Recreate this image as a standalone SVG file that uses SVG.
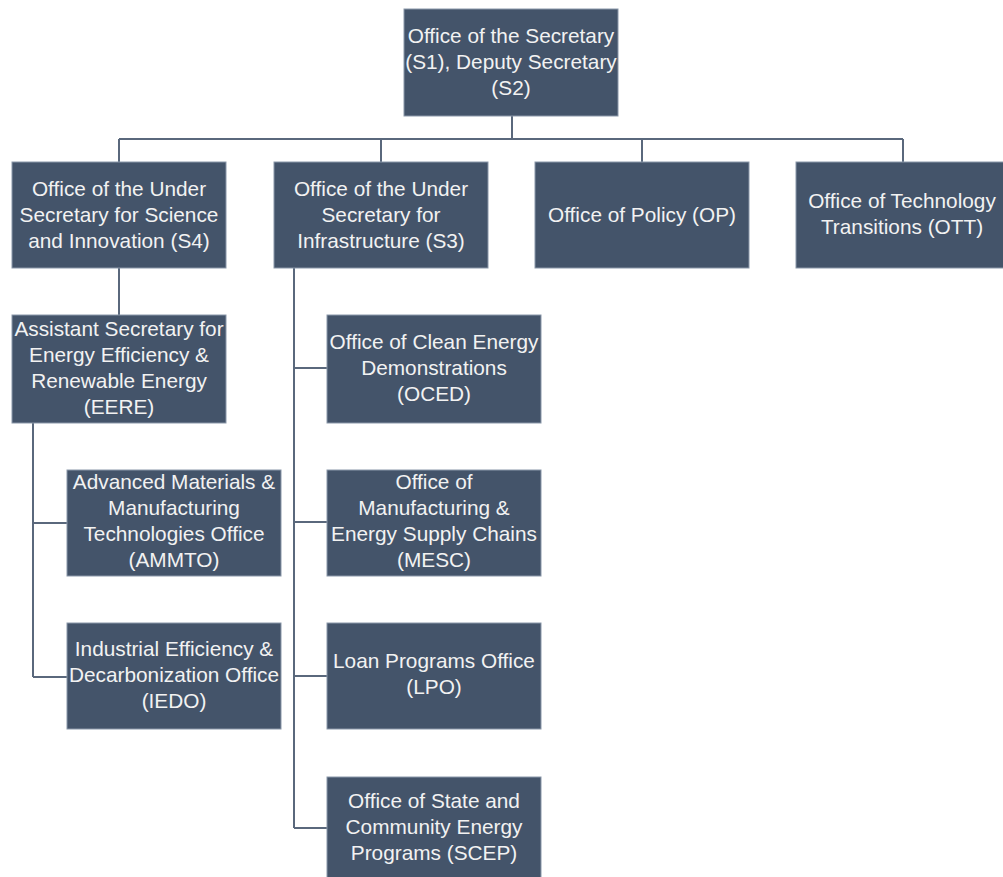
<svg xmlns="http://www.w3.org/2000/svg" width="1003" height="877" viewBox="0 0 1003 877">
<style>
.box{fill:#44546a;stroke:#8a97a9;stroke-width:1}
.lbl{font-family:"Liberation Sans",Arial,sans-serif;font-size:20.8px;fill:#f2f2f2;text-anchor:middle}
.con{fill:none;stroke:#5a687c;stroke-width:2}
</style>
<rect width="1003" height="877" fill="#ffffff"/>
<g id="connectors">
<path class="con" d="M512,116 V139 M119,139 H903 M119,139 V162 M381,139 V162 M642,139 V162 M903,139 V162"/>
<path class="con" d="M119,268 V315"/>
<path class="con" d="M33,423 V677 M33,523 H67 M33,677 H67"/>
<path class="con" d="M294,268 V828 M294,368 H327 M294,522 H327 M294,676 H327 M294,828 H327"/>
</g>
<g id="S1">
<rect class="box" x="404" y="9" width="214" height="107"/>
<text class="lbl" x="511" y="43">Office of the Secretary</text>
<text class="lbl" x="511" y="69">(S1), Deputy Secretary</text>
<text class="lbl" x="511" y="95">(S2)</text>
</g>
<g id="S4">
<rect class="box" x="12" y="162" width="214" height="106"/>
<text class="lbl" x="119" y="196">Office of the Under</text>
<text class="lbl" x="119" y="222">Secretary for Science</text>
<text class="lbl" x="119" y="248">and Innovation (S4)</text>
</g>
<g id="S3">
<rect class="box" x="274" y="162" width="214" height="106"/>
<text class="lbl" x="381" y="196">Office of the Under</text>
<text class="lbl" x="381" y="222">Secretary for</text>
<text class="lbl" x="381" y="248">Infrastructure (S3)</text>
</g>
<g id="OP">
<rect class="box" x="535" y="162" width="214" height="106"/>
<text class="lbl" x="642" y="222">Office of Policy (OP)</text>
</g>
<g id="OTT">
<rect class="box" x="796" y="162" width="214" height="106"/>
<text class="lbl" x="902" y="208">Office of Technology</text>
<text class="lbl" x="902" y="234">Transitions (OTT)</text>
</g>
<g id="EERE">
<rect class="box" x="12" y="315" width="214" height="108"/>
<text class="lbl" x="119" y="336">Assistant Secretary for</text>
<text class="lbl" x="119" y="362">Energy Efficiency &amp;</text>
<text class="lbl" x="119" y="388">Renewable Energy</text>
<text class="lbl" x="119" y="414">(EERE)</text>
</g>
<g id="AMMTO">
<rect class="box" x="67" y="470" width="214" height="106"/>
<text class="lbl" x="174" y="489">Advanced Materials &amp;</text>
<text class="lbl" x="174" y="515">Manufacturing</text>
<text class="lbl" x="174" y="541">Technologies Office</text>
<text class="lbl" x="174" y="567">(AMMTO)</text>
</g>
<g id="IEDO">
<rect class="box" x="67" y="623" width="214" height="106"/>
<text class="lbl" x="174" y="656">Industrial Efficiency &amp;</text>
<text class="lbl" x="174" y="682">Decarbonization Office</text>
<text class="lbl" x="174" y="708">(IEDO)</text>
</g>
<g id="OCED">
<rect class="box" x="327" y="315" width="214" height="108"/>
<text class="lbl" x="434" y="349">Office of Clean Energy</text>
<text class="lbl" x="434" y="375">Demonstrations</text>
<text class="lbl" x="434" y="401">(OCED)</text>
</g>
<g id="MESC">
<rect class="box" x="327" y="470" width="214" height="106"/>
<text class="lbl" x="434" y="489">Office of</text>
<text class="lbl" x="434" y="515">Manufacturing &amp;</text>
<text class="lbl" x="434" y="541">Energy Supply Chains</text>
<text class="lbl" x="434" y="567">(MESC)</text>
</g>
<g id="LPO">
<rect class="box" x="327" y="623" width="214" height="106"/>
<text class="lbl" x="434" y="668">Loan Programs Office</text>
<text class="lbl" x="434" y="694">(LPO)</text>
</g>
<g id="SCEP">
<rect class="box" x="327" y="777" width="214" height="106"/>
<text class="lbl" x="434" y="808">Office of State and</text>
<text class="lbl" x="434" y="834">Community Energy</text>
<text class="lbl" x="434" y="860">Programs (SCEP)</text>
</g>
</svg>
